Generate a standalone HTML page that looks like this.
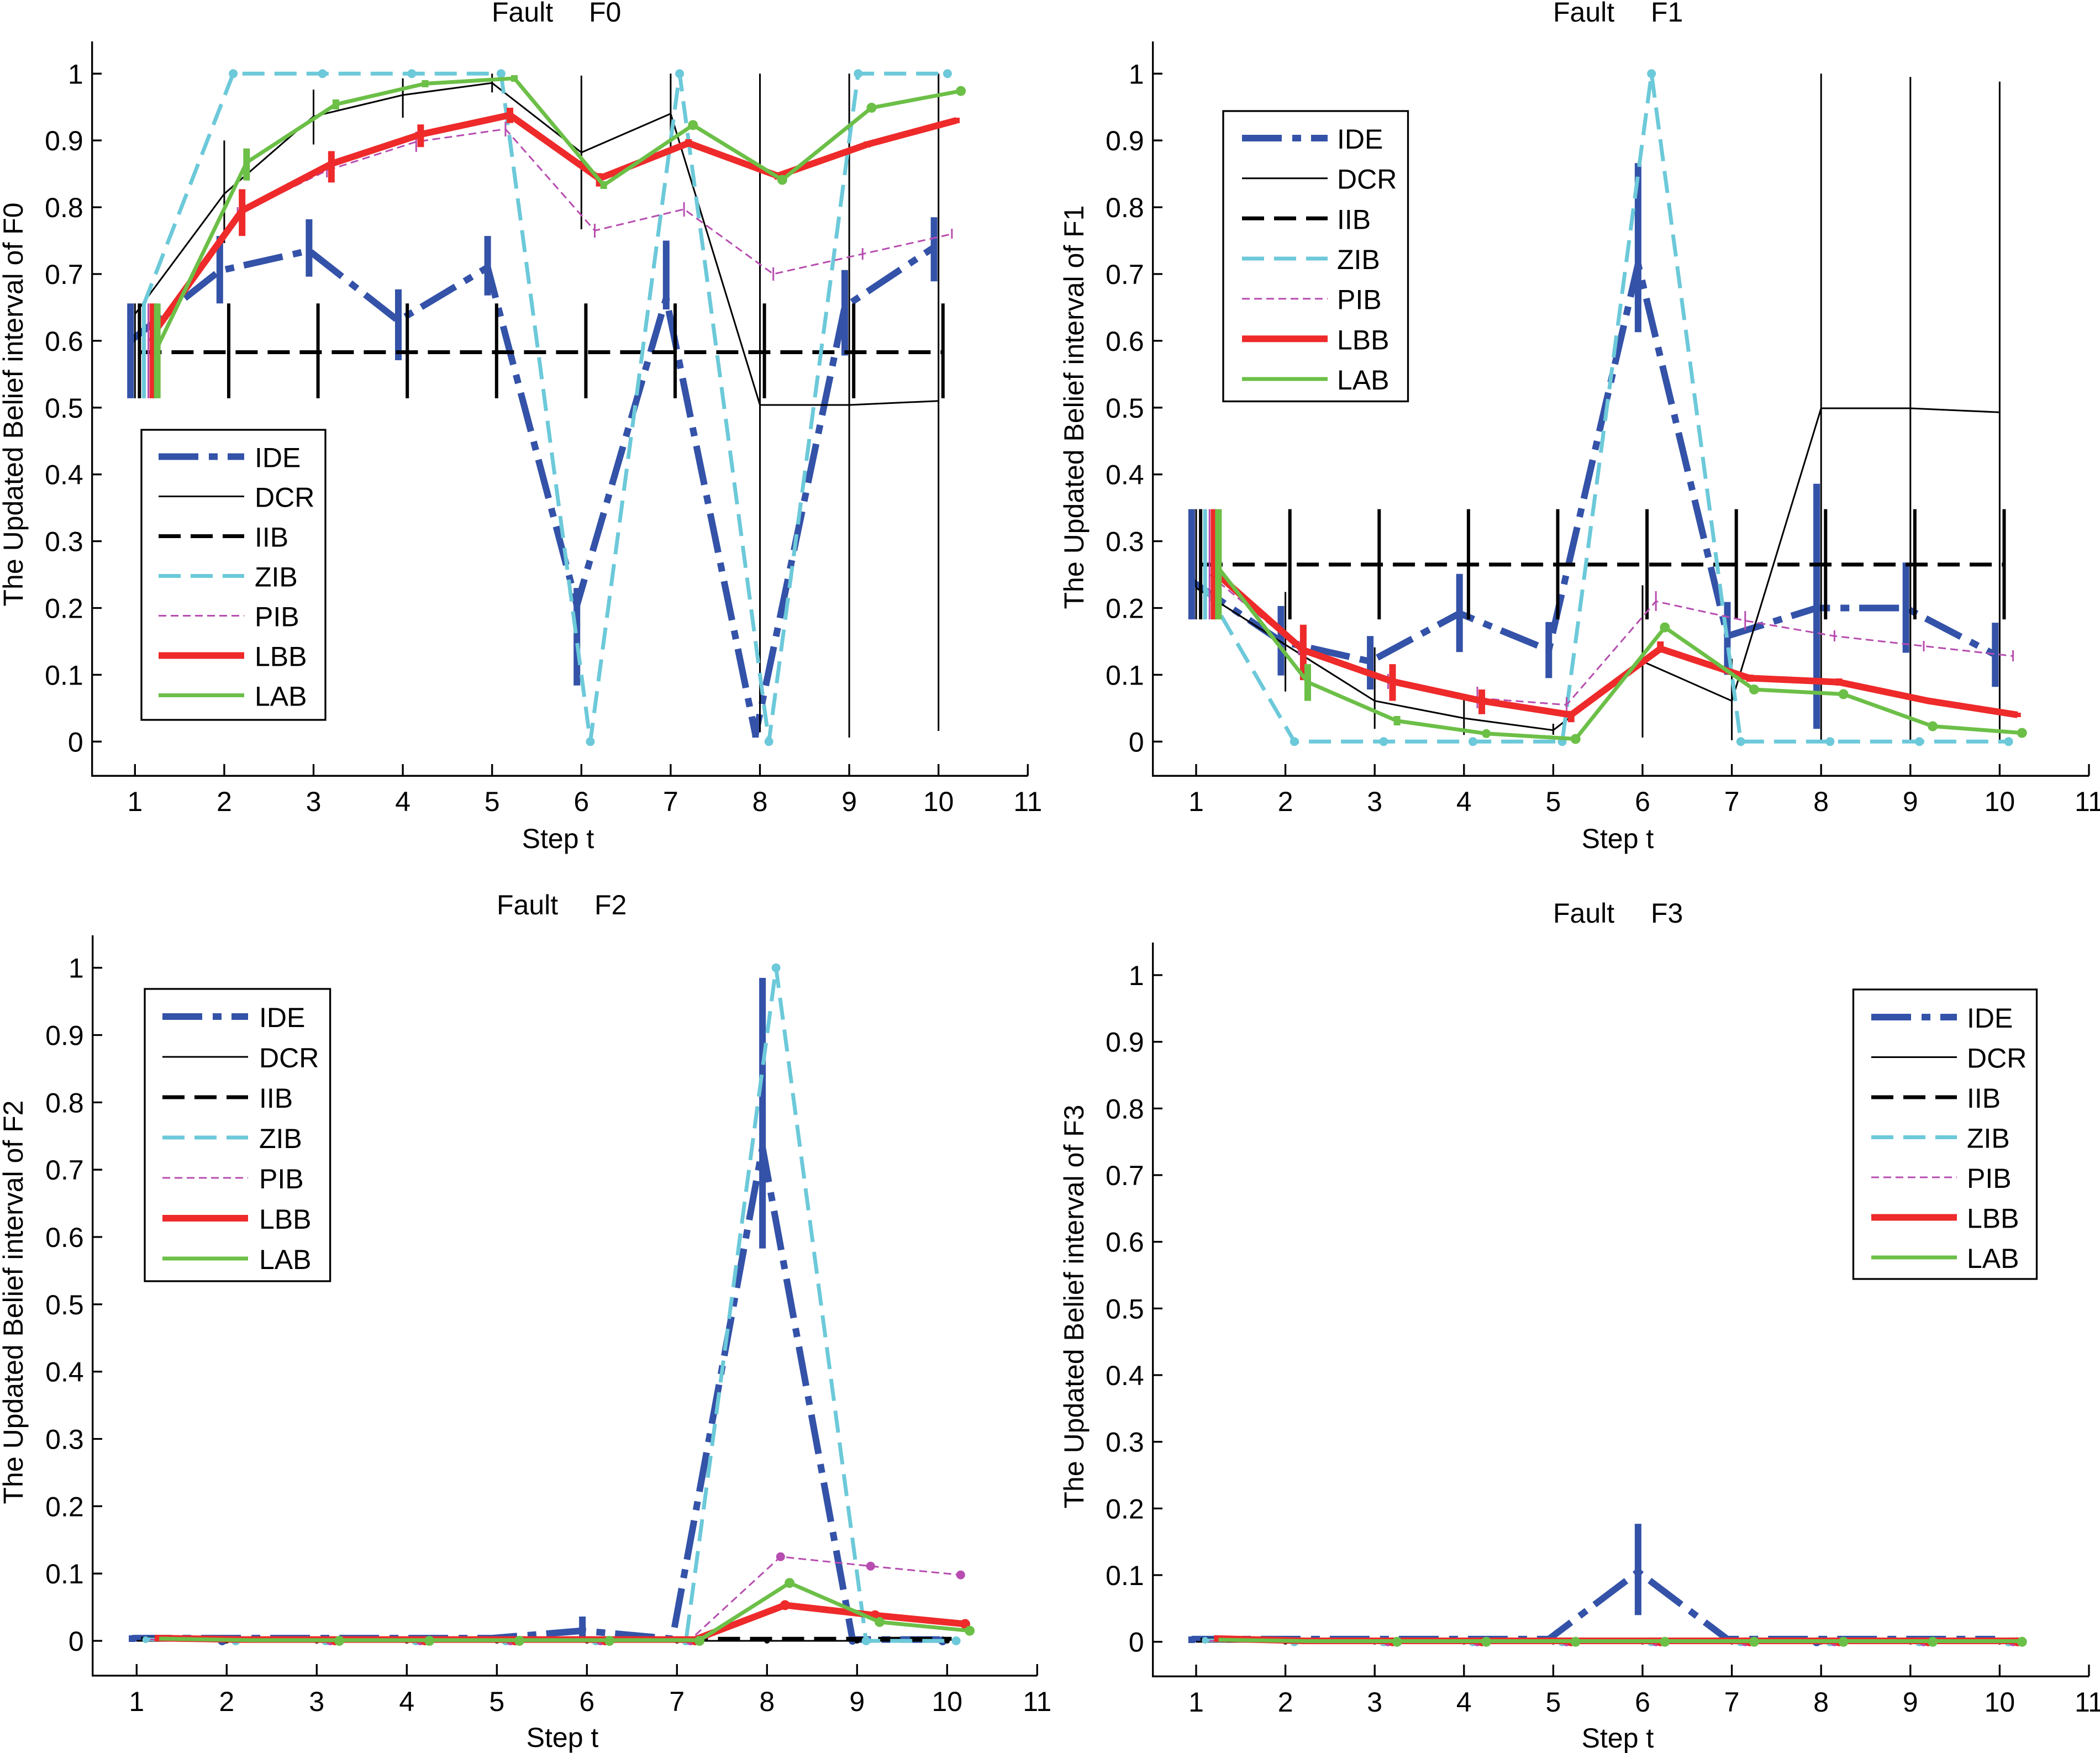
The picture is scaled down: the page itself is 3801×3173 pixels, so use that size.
<!DOCTYPE html>
<html>
<head>
<meta charset="utf-8">
<style>
html,body{margin:0;padding:0;background:#fff;}
svg{display:block;}
text{font-family:"Liberation Sans",Arial,sans-serif;font-size:50px;fill:#000;}
.ax{stroke:#000;stroke-width:3.3;fill:none;}
.ide{stroke:#3352A8;stroke-width:12;fill:none;stroke-dasharray:72 19 16 18;}
.ideb{stroke:#3352A8;stroke-width:12;fill:none;}
.dcr{stroke:#000;stroke-width:3;fill:none;}
.iib{stroke:#000;stroke-width:7;fill:none;stroke-dasharray:40 18;}
.iibb{stroke:#000;stroke-width:6;fill:none;}
.zib{stroke:#6CC9D9;stroke-width:7;fill:none;stroke-dasharray:40 18;}
.zibb{stroke:#6CC9D9;stroke-width:7;fill:none;}
.pib{stroke:#B74DB0;stroke-width:3;fill:none;stroke-dasharray:14 8;}
.pibb{stroke:#B74DB0;stroke-width:3;fill:none;}
.lbb{stroke:#EE2A2A;stroke-width:12;fill:none;}
.lab{stroke:#6CBF47;stroke-width:7;fill:none;}
.labb{stroke:#6CBF47;stroke-width:12;fill:none;}
.cz{fill:#6CC9D9;} .cg{fill:#6CBF47;} .cr{fill:#EE2A2A;} .cm{fill:#B74DB0;} .cb{fill:#3352A8;} .ck{fill:#000;}
.leg{fill:#fff;stroke:#000;stroke-width:3.3;}
</style>
</head>
<body>
<svg width="3801" height="3173" viewBox="0 0 3801 3173" xmlns="http://www.w3.org/2000/svg">
<rect x="0" y="0" width="3801" height="3173" fill="#fff"/>

<!-- ===================== PANEL 1 (F0) ===================== -->
<g>
<path class="ax" d="M166.7,75V1404.3H1860.3"/>
<path class="ax" d="M244.3,1404.3V1383 M405.9,1404.3V1383 M567.5,1404.3V1383 M729.1,1404.3V1383 M890.7,1404.3V1383 M1052.3,1404.3V1383 M1213.9,1404.3V1383 M1375.5,1404.3V1383 M1537.1,1404.3V1383 M1698.7,1404.3V1383 M1860.3,1404.3V1383"/>
<path class="ax" d="M166.7,1342.3H184 M166.7,1221.4H184 M166.7,1100.5H184 M166.7,979.6H184 M166.7,858.7H184 M166.7,737.8H184 M166.7,616.9H184 M166.7,496H184 M166.7,375.1H184 M166.7,254.2H184 M166.7,133.3H184"/>
<g text-anchor="end">
<text x="150.7" y="1360.3">0</text><text x="150.7" y="1239.4">0.1</text><text x="150.7" y="1118.5">0.2</text><text x="150.7" y="997.6">0.3</text><text x="150.7" y="876.7">0.4</text><text x="150.7" y="755.8">0.5</text><text x="150.7" y="634.9">0.6</text><text x="150.7" y="514">0.7</text><text x="150.7" y="393.1">0.8</text><text x="150.7" y="272.2">0.9</text><text x="150.7" y="151.3">1</text>
</g>
<g text-anchor="middle">
<text x="244.3" y="1468">1</text><text x="405.9" y="1468">2</text><text x="567.5" y="1468">3</text><text x="729.1" y="1468">4</text><text x="890.7" y="1468">5</text><text x="1052.3" y="1468">6</text><text x="1213.9" y="1468">7</text><text x="1375.5" y="1468">8</text><text x="1537.1" y="1468">9</text><text x="1698.7" y="1468">10</text><text x="1860.3" y="1468">11</text>
<text x="1010" y="1535">Step t</text>
<text transform="translate(41,732) rotate(-90)">The Updated Belief interval of F0</text>
</g>
<text x="890" y="39">Fault</text><text x="1066" y="39">F0</text>

<!-- IDE -->
<path class="ide" d="M236.2,616.9 L397.8,490 L559.4,453.7 L721,580.6 L882.6,483.9 L1044.2,1095.7 L1205.8,539.5 L1367.4,1330.2 L1529,555.2 L1690.6,447.6"/>
<path class="ideb" d="M236.2,549.2V720.9 M397.8,427.1V549.2 M559.4,396.9V500.8 M721,523.8V652 M882.6,427.1V534.7 M1044.2,1064.2V1240.7 M1205.8,435.5V560.1 M1367.4,1306V1335.1 M1529,488.7V643.5 M1690.6,393.2V509.3"/>
<!-- DCR -->
<path class="dcr" d="M244.3,568.5 L405.9,350.9 L567.5,210.7 L729.1,172 L890.7,150.2 L1052.3,276 L1213.9,205.8 L1375.5,733 L1537.1,733 L1698.7,725.7"/>
<path class="dcr" d="M244.3,549.2V720.9 M405.9,254.2V440 M567.5,162.3V261.5 M729.1,141.8V213.1 M890.7,133.3V167.2 M1052.3,136.9V415 M1213.9,133.3V276 M1375.5,133.3V1325.4 M1537.1,133.3V1335 M1698.7,133.3V1323"/>
<!-- IIB -->
<path class="iib" d="M252.4,637.5H1706.8"/>
<path class="iibb" d="M252.4,549.2V720.9 M414,549.2V720.9 M575.6,549.2V720.9 M737.2,549.2V720.9 M898.8,549.2V720.9 M1060.4,549.2V720.9 M1222,549.2V720.9 M1383.6,549.2V720.9 M1545.2,549.2V720.9 M1706.8,549.2V720.9"/>
<!-- ZIB -->
<path class="zib" d="M260.5,550.4 L422.1,133.3 L583.7,133.3 L745.3,133.3 L906.9,133.3 L1068.5,1342.3 L1230.1,133.3 L1391.7,1342.3 L1553.3,133.3 L1714.9,133.3"/>
<path class="zibb" d="M260.5,549.2V720.9"/>
<g class="cz"><circle cx="422.1" cy="133.3" r="8"/><circle cx="583.7" cy="133.3" r="8"/><circle cx="745.3" cy="133.3" r="8"/><circle cx="906.9" cy="133.3" r="8"/><circle cx="1068.5" cy="1342.3" r="8"/><circle cx="1230.1" cy="133.3" r="8"/><circle cx="1391.7" cy="1342.3" r="8"/><circle cx="1553.3" cy="133.3" r="8"/><circle cx="1714.9" cy="133.3" r="8"/></g>
<!-- PIB -->
<path class="pib" d="M268.5,616.9 L430.1,387.2 L591.7,308.6 L753.3,256.6 L914.9,233.6 L1076.5,417.4 L1238.1,378.7 L1399.7,496 L1561.3,459.7 L1722.9,423.5"/>
<path class="pibb" d="M268.5,549.2V720.9 M430.1,375V400 M591.7,296V321 M753.3,238V275 M914.9,220V247 M1076.5,405V430 M1238.1,366V392 M1399.7,484V508 M1561.3,449V470 M1722.9,414V432"/>
<!-- LBB -->
<path class="lbb" d="M276.6,604.8 L438.2,381.1 L599.8,296.5 L761.4,243.3 L923,208.3 L1084.6,323.1 L1246.2,259 L1407.8,318.3 L1569.4,261.5 L1731,217.9"/>
<path class="lbb" d="M276.6,549.2V720.9 M438.2,342.5V427.1 M599.8,273.5V330.4 M761.4,225.2V266.3 M923,195V222.8 M1084.6,313.4V337.6 M1246.2,252V266 M1407.8,312V325 M1569.4,256V267 M1731,213V223"/>
<!-- LAB -->
<path class="lab" d="M284.7,629 L446.3,294.1 L607.9,188.9 L769.5,151.4 L931.1,141.8 L1092.7,335.2 L1254.3,226.4 L1415.9,325.5 L1577.5,195 L1739.1,164.7"/>
<path class="labb" d="M284.7,549.2V720.9 M446.3,268.7V326.7 M607.9,180V198 M769.5,145V158 M931.1,136V148 M1092.7,328V342 M1254.3,219V233"/>
<g class="cg"><circle cx="1254.3" cy="226.4" r="9"/><circle cx="1415.9" cy="325.5" r="9"/><circle cx="1577.5" cy="195" r="9"/><circle cx="1739.1" cy="164.7" r="9"/></g>

<!-- Legend -->
<rect class="leg" x="256" y="778" width="333" height="525"/>
<path class="ide" d="M287,826.5H442"/>
<path class="dcr" d="M287,898.5H442"/>
<path class="iib" d="M287,970.5H442"/>
<path class="zib" d="M287,1042.5H442"/>
<path class="pib" d="M287,1114.5H442"/>
<path class="lbb" d="M287,1186.5H442"/>
<path class="lab" d="M287,1258.5H442"/>
<text x="461" y="845.5">IDE</text><text x="461" y="917.5">DCR</text><text x="461" y="989.5">IIB</text><text x="461" y="1061.5">ZIB</text><text x="461" y="1133.5">PIB</text><text x="461" y="1205.5">LBB</text><text x="461" y="1277.5">LAB</text>
</g>

<!-- ===================== PANEL 2 (F1) ===================== -->
<g>
<path class="ax" d="M2086.7,75V1404.3H3781"/>
<path class="ax" d="M2165,1404.3V1383 M2326.6,1404.3V1383 M2488.2,1404.3V1383 M2649.8,1404.3V1383 M2811.4,1404.3V1383 M2973,1404.3V1383 M3134.6,1404.3V1383 M3296.2,1404.3V1383 M3457.8,1404.3V1383 M3619.4,1404.3V1383 M3781,1404.3V1383"/>
<path class="ax" d="M2086.7,1342.3H2104 M2086.7,1221.4H2104 M2086.7,1100.5H2104 M2086.7,979.6H2104 M2086.7,858.7H2104 M2086.7,737.8H2104 M2086.7,616.9H2104 M2086.7,496H2104 M2086.7,375.1H2104 M2086.7,254.2H2104 M2086.7,133.3H2104"/>
<g text-anchor="end">
<text x="2070.7" y="1360.3">0</text><text x="2070.7" y="1239.4">0.1</text><text x="2070.7" y="1118.5">0.2</text><text x="2070.7" y="997.6">0.3</text><text x="2070.7" y="876.7">0.4</text><text x="2070.7" y="755.8">0.5</text><text x="2070.7" y="634.9">0.6</text><text x="2070.7" y="514">0.7</text><text x="2070.7" y="393.1">0.8</text><text x="2070.7" y="272.2">0.9</text><text x="2070.7" y="151.3">1</text>
</g>
<g text-anchor="middle">
<text x="2165" y="1468">1</text><text x="2326.6" y="1468">2</text><text x="2488.2" y="1468">3</text><text x="2649.8" y="1468">4</text><text x="2811.4" y="1468">5</text><text x="2973" y="1468">6</text><text x="3134.6" y="1468">7</text><text x="3296.2" y="1468">8</text><text x="3457.8" y="1468">9</text><text x="3619.4" y="1468">10</text><text x="3781" y="1468">11</text>
<text x="2928" y="1535">Step t</text>
<text transform="translate(1961,737) rotate(-90)">The Updated Belief interval of F1</text>
</g>
<text x="2811" y="39">Fault</text><text x="2988" y="39">F1</text>

<!-- IDE -->
<path class="ide" d="M2156.9,1052.1 L2318.5,1160.9 L2480.1,1197.2 L2641.7,1110.2 L2803.3,1176.7 L2964.9,477.9 L3126.5,1151.3 L3288.1,1100.5 L3449.7,1100.5 L3611.3,1185.1"/>
<path class="ideb" d="M2156.9,921.6V1121.1 M2318.5,1096.9V1222.6 M2480.1,1151.3V1248 M2641.7,1038.8V1180.3 M2803.3,1125.9V1227.4 M2964.9,295.3V601.2 M3126.5,1089.6V1221.4 M3288.1,875.6V1319.3 M3449.7,1018.3V1181.5 M3611.3,1127.1V1243.2"/>
<!-- DCR -->
<path class="dcr" d="M2165,1064.2 L2326.6,1167 L2488.2,1268.6 L2649.8,1300 L2811.4,1321.7 L2973,1197.2 L3134.6,1268.6 L3296.2,739 L3457.8,739 L3619.4,746.3"/>
<path class="dcr" d="M2165,921.6V1121.1 M2326.6,1071.5V1251.6 M2488.2,1171.8V1319.3 M2649.8,1258.9V1330.2 M2811.4,1310V1330 M2973,1059.4V1335 M3134.6,1192.4V1339.9 M3296.2,133.3V1342.3 M3457.8,139.3V1342.3 M3619.4,147.8V1342.3"/>
<!-- IIB -->
<path class="iib" d="M2173.1,1021.9H3627.5"/>
<path class="iibb" d="M2173.1,921.6V1121.1 M2334.7,921.6V1121.1 M2496.3,921.6V1121.1 M2657.9,921.6V1121.1 M2819.5,921.6V1121.1 M2981.1,921.6V1121.1 M3142.7,921.6V1121.1 M3304.3,921.6V1121.1 M3465.9,921.6V1121.1 M3627.5,921.6V1121.1"/>
<!-- ZIB -->
<path class="zib" d="M2181.2,1064.2 L2342.8,1342.3 L2504.4,1342.3 L2666,1342.3 L2827.6,1342.3 L2989.2,133.3 L3150.8,1342.3 L3312.4,1342.3 L3474,1342.3 L3635.6,1342.3"/>
<path class="zibb" d="M2181.2,921.6V1121.1"/>
<g class="cz"><circle cx="2342.8" cy="1342.3" r="8"/><circle cx="2504.4" cy="1342.3" r="8"/><circle cx="2666" cy="1342.3" r="8"/><circle cx="2827.6" cy="1342.3" r="8"/><circle cx="2989.2" cy="133.3" r="8"/><circle cx="3150.8" cy="1342.3" r="8"/><circle cx="3312.4" cy="1342.3" r="8"/><circle cx="3474" cy="1342.3" r="8"/><circle cx="3635.6" cy="1342.3" r="8"/></g>
<!-- PIB -->
<path class="pib" d="M2189.2,1040 L2350.8,1173 L2512.4,1233.5 L2674,1263.7 L2835.6,1275.8 L2997.2,1088.4 L3158.8,1123.5 L3320.4,1151.3 L3482,1169.4 L3643.6,1187.5"/>
<path class="pibb" d="M2189.2,921.6V1121.1 M2350.8,1160V1186 M2512.4,1220V1247 M2674,1243V1282 M2835.6,1262V1290 M2997.2,1070V1106 M3158.8,1106V1140 M3320.4,1141V1161 M3482,1160V1179 M3643.6,1177V1197"/>
<!-- LBB -->
<path class="lbb" d="M2197.3,1034 L2358.9,1176.7 L2520.5,1233.5 L2682.1,1268.6 L2843.7,1293.9 L3005.3,1174.2 L3166.9,1227.4 L3328.5,1234.7 L3490.1,1268.6 L3651.7,1293.9"/>
<path class="lbb" d="M2197.3,921.6V1121.1 M2358.9,1130.7V1231.1 M2520.5,1202.1V1268.6 M2682.1,1248V1292.7 M2843.7,1286.7V1307.2 M3005.3,1161V1181.5 M3166.9,1221V1234 M3328.5,1228V1241 M3490.1,1264V1273 M3651.7,1290V1298"/>
<!-- LAB -->
<path class="lab" d="M2205.4,1028 L2367,1234.7 L2528.6,1304.8 L2690.2,1327.8 L2851.8,1337.5 L3013.4,1135.6 L3175,1248 L3336.6,1256.5 L3498.2,1314.5 L3659.8,1326.6"/>
<path class="labb" d="M2205.4,921.6V1121.1 M2367,1202.1V1268.6 M2528.6,1296V1313"/>
<g class="cg"><circle cx="2690.2" cy="1327.8" r="8"/><circle cx="2851.8" cy="1337.5" r="9"/><circle cx="3013.4" cy="1135.6" r="9"/><circle cx="3175" cy="1248" r="9"/><circle cx="3336.6" cy="1256.5" r="9"/><circle cx="3498.2" cy="1314.5" r="9"/><circle cx="3659.8" cy="1326.6" r="9"/></g>

<!-- Legend -->
<rect class="leg" x="2214" y="201" width="334.5" height="525.5"/>
<path class="ide" d="M2248,250H2403"/>
<path class="dcr" d="M2248,322.7H2403"/>
<path class="iib" d="M2248,395.3H2403"/>
<path class="zib" d="M2248,468H2403"/>
<path class="pib" d="M2248,540.7H2403"/>
<path class="lbb" d="M2248,613.3H2403"/>
<path class="lab" d="M2248,686H2403"/>
<text x="2420" y="269">IDE</text><text x="2420" y="341.7">DCR</text><text x="2420" y="414.3">IIB</text><text x="2420" y="487">ZIB</text><text x="2420" y="559.7">PIB</text><text x="2420" y="632.3">LBB</text><text x="2420" y="705">LAB</text>
</g>

<!-- ===================== PANEL 3 (F2) ===================== -->
<g>
<path class="ax" d="M167.7,1693V3033H1877.3"/>
<path class="ax" d="M247.3,3033V3012 M410.3,3033V3012 M573.3,3033V3012 M736.3,3033V3012 M899.3,3033V3012 M1062.3,3033V3012 M1225.3,3033V3012 M1388.3,3033V3012 M1551.3,3033V3012 M1714.3,3033V3012 M1877.3,3033V3012"/>
<path class="ax" d="M167.7,2970H185 M167.7,2848.2H185 M167.7,2726.3H185 M167.7,2604.5H185 M167.7,2482.7H185 M167.7,2360.9H185 M167.7,2239H185 M167.7,2117.2H185 M167.7,1995.4H185 M167.7,1873.5H185 M167.7,1751.7H185"/>
<g text-anchor="end">
<text x="151.7" y="2988">0</text><text x="151.7" y="2866.2">0.1</text><text x="151.7" y="2744.3">0.2</text><text x="151.7" y="2622.5">0.3</text><text x="151.7" y="2500.7">0.4</text><text x="151.7" y="2378.9">0.5</text><text x="151.7" y="2257">0.6</text><text x="151.7" y="2135.2">0.7</text><text x="151.7" y="2013.4">0.8</text><text x="151.7" y="1891.5">0.9</text><text x="151.7" y="1769.7">1</text>
</g>
<g text-anchor="middle">
<text x="247.3" y="3097">1</text><text x="410.3" y="3097">2</text><text x="573.3" y="3097">3</text><text x="736.3" y="3097">4</text><text x="899.3" y="3097">5</text><text x="1062.3" y="3097">6</text><text x="1225.3" y="3097">7</text><text x="1388.3" y="3097">8</text><text x="1551.3" y="3097">9</text><text x="1714.3" y="3097">10</text><text x="1877.3" y="3097">11</text>
<text x="1018" y="3162">Step t</text>
<text transform="translate(41,2357) rotate(-90)">The Updated Belief interval of F2</text>
</g>
<text x="899" y="1655">Fault</text><text x="1076" y="1655">F2</text>

<!-- IDE -->
<path class="ide" d="M239.1,2965.1 L402.1,2965.1 L565.1,2965.1 L728.1,2965.1 L891.1,2965.1 L1054.1,2951.7 L1217.1,2966.3 L1380.1,2077 L1543.1,2967.6 L1706.1,2967.6"/>
<path class="ideb" d="M239.1,2960V2972 M1054.1,2926V2970 M1380.1,1770V2259.7"/>
<g class="cb"><circle cx="402.1" cy="2970" r="8"/><circle cx="1543.1" cy="2970" r="7"/><circle cx="1706.1" cy="2970" r="8"/></g>
<!-- DCR -->
<path class="dcr" d="M247.3,2970H1714.3"/>
<g class="ck"><circle cx="410.3" cy="2970" r="5"/><circle cx="573.3" cy="2970" r="5"/><circle cx="736.3" cy="2970" r="5"/><circle cx="899.3" cy="2970" r="5"/><circle cx="1062.3" cy="2970" r="5"/><circle cx="1225.3" cy="2970" r="5"/><circle cx="1388.3" cy="2970" r="5"/><circle cx="1551.3" cy="2970" r="5"/><circle cx="1714.3" cy="2970" r="5"/></g>
<!-- IIB -->
<path class="iib" d="M255.5,2966.3H1722.5"/>
<!-- ZIB -->
<path class="zib" d="M263.6,2967 L426.6,2970 L589.6,2970 L752.6,2970 L915.6,2970 L1078.6,2970 L1241.6,2970 L1404.6,1751.7 L1567.6,2970 L1730.6,2970"/>
<g class="cz"><circle cx="263.6" cy="2968" r="6"/><circle cx="426.6" cy="2970" r="8"/><circle cx="589.6" cy="2970" r="8"/><circle cx="752.6" cy="2970" r="8"/><circle cx="915.6" cy="2970" r="8"/><circle cx="1078.6" cy="2970" r="8"/><circle cx="1241.6" cy="2970" r="8"/><circle cx="1404.6" cy="1751.7" r="8"/><circle cx="1567.6" cy="2970" r="8"/><circle cx="1730.6" cy="2970" r="8"/></g>
<!-- PIB -->
<path class="pib" d="M271.8,2967.6 L1249.8,2967.6 L1412.8,2817.7 L1575.8,2834.8 L1738.8,2850.6"/>
<g class="cm"><circle cx="597.8" cy="2970" r="8"/><circle cx="760.8" cy="2970" r="8"/><circle cx="923.8" cy="2970" r="8"/><circle cx="1086.8" cy="2970" r="8"/><circle cx="1249.8" cy="2970" r="8"/><circle cx="1412.8" cy="2817.7" r="8"/><circle cx="1575.8" cy="2834.8" r="8"/><circle cx="1738.8" cy="2850.6" r="8"/></g>
<!-- LBB -->
<path class="lbb" d="M279.9,2965 L442.9,2967.6 L1257.9,2967.6 L1420.9,2905.4 L1583.9,2923.7 L1746.9,2939.5"/>
<g class="cr"><circle cx="605.9" cy="2970" r="8"/><circle cx="768.9" cy="2970" r="8"/><circle cx="931.9" cy="2970" r="8"/><circle cx="1094.9" cy="2970" r="8"/><circle cx="1257.9" cy="2970" r="8"/><circle cx="1420.9" cy="2905.4" r="9"/><circle cx="1583.9" cy="2923.7" r="9"/><circle cx="1746.9" cy="2939.5" r="9"/></g>
<!-- LAB -->
<path class="lab" d="M288.1,2966 L451.1,2968.8 L1266.1,2968.8 L1429.1,2865.2 L1592.1,2935.9 L1755.1,2951.7"/>
<g class="cg"><circle cx="614.1" cy="2970" r="9"/><circle cx="777.1" cy="2970" r="9"/><circle cx="940.1" cy="2970" r="9"/><circle cx="1103.1" cy="2970" r="9"/><circle cx="1266.1" cy="2970" r="9"/><circle cx="1429.1" cy="2865.2" r="9"/><circle cx="1592.1" cy="2935.9" r="9"/><circle cx="1755.1" cy="2951.7" r="9"/></g>

<!-- Legend -->
<rect class="leg" x="262" y="1790" width="335.6" height="529"/>
<path class="ide" d="M294,1840H449"/>
<path class="dcr" d="M294,1913H449"/>
<path class="iib" d="M294,1986H449"/>
<path class="zib" d="M294,2059H449"/>
<path class="pib" d="M294,2132H449"/>
<path class="lbb" d="M294,2205H449"/>
<path class="lab" d="M294,2278H449"/>
<text x="469" y="1859">IDE</text><text x="469" y="1932">DCR</text><text x="469" y="2005">IIB</text><text x="469" y="2078">ZIB</text><text x="469" y="2151">PIB</text><text x="469" y="2224">LBB</text><text x="469" y="2297">LAB</text>
</g>

<!-- ===================== PANEL 4 (F3) ===================== -->
<g>
<path class="ax" d="M2086.7,1706V3034.3H3781"/>
<path class="ax" d="M2165,3034.3V3013 M2326.6,3034.3V3013 M2488.2,3034.3V3013 M2649.8,3034.3V3013 M2811.4,3034.3V3013 M2973,3034.3V3013 M3134.6,3034.3V3013 M3296.2,3034.3V3013 M3457.8,3034.3V3013 M3619.4,3034.3V3013 M3781,3034.3V3013"/>
<path class="ax" d="M2086.7,2971.7H2104 M2086.7,2851H2104 M2086.7,2730.4H2104 M2086.7,2609.7H2104 M2086.7,2489H2104 M2086.7,2368.4H2104 M2086.7,2247.7H2104 M2086.7,2127H2104 M2086.7,2006.4H2104 M2086.7,1885.7H2104 M2086.7,1765H2104"/>
<g text-anchor="end">
<text x="2070.7" y="2989.7">0</text><text x="2070.7" y="2869">0.1</text><text x="2070.7" y="2748.4">0.2</text><text x="2070.7" y="2627.7">0.3</text><text x="2070.7" y="2507">0.4</text><text x="2070.7" y="2386.4">0.5</text><text x="2070.7" y="2265.7">0.6</text><text x="2070.7" y="2145">0.7</text><text x="2070.7" y="2024.4">0.8</text><text x="2070.7" y="1903.7">0.9</text><text x="2070.7" y="1783">1</text>
</g>
<g text-anchor="middle">
<text x="2165" y="3098">1</text><text x="2326.6" y="3098">2</text><text x="2488.2" y="3098">3</text><text x="2649.8" y="3098">4</text><text x="2811.4" y="3098">5</text><text x="2973" y="3098">6</text><text x="3134.6" y="3098">7</text><text x="3296.2" y="3098">8</text><text x="3457.8" y="3098">9</text><text x="3619.4" y="3098">10</text><text x="3781" y="3098">11</text>
<text x="2928" y="3163">Step t</text>
<text transform="translate(1961,2365) rotate(-90)">The Updated Belief interval of F3</text>
</g>
<text x="2811" y="1670">Fault</text><text x="2988" y="1670">F3</text>

<!-- IDE -->
<path class="ide" d="M2156.9,2966.9 L2318.5,2966.9 L2480.1,2966.9 L2641.7,2966.9 L2803.3,2966.9 L2964.9,2845 L3126.5,2966.9 L3288.1,2966.9 L3449.7,2966.9 L3611.3,2966.9"/>
<path class="ideb" d="M2156.9,2962V2974 M2964.9,2758.1V2923.4"/>
<g class="cb"><circle cx="3288.1" cy="2971.7" r="8"/></g>
<!-- DCR -->
<path class="dcr" d="M2165,2971.7H3619.4"/>
<g class="ck"><circle cx="2326.6" cy="2971.7" r="5"/><circle cx="2488.2" cy="2971.7" r="5"/><circle cx="2649.8" cy="2971.7" r="5"/><circle cx="2811.4" cy="2971.7" r="5"/><circle cx="2973" cy="2971.7" r="5"/><circle cx="3134.6" cy="2971.7" r="5"/><circle cx="3296.2" cy="2971.7" r="5"/><circle cx="3457.8" cy="2971.7" r="5"/><circle cx="3619.4" cy="2971.7" r="5"/></g>
<!-- IIB -->
<path class="iib" d="M2173.1,2968H3627.5"/>
<!-- ZIB -->
<path class="zib" d="M2181.2,2969 L3635.6,2971.7"/>
<g class="cz"><circle cx="2181.2" cy="2969" r="6"/><circle cx="2342.8" cy="2971.7" r="8"/><circle cx="2504.4" cy="2971.7" r="8"/><circle cx="2666" cy="2971.7" r="8"/><circle cx="2827.6" cy="2971.7" r="8"/><circle cx="2989.2" cy="2971.7" r="8"/><circle cx="3150.8" cy="2971.7" r="8"/><circle cx="3312.4" cy="2971.7" r="8"/><circle cx="3474" cy="2971.7" r="8"/><circle cx="3635.6" cy="2971.7" r="8"/></g>
<!-- PIB -->
<path class="pib" d="M2189.2,2970H3643.6"/>
<g class="cm"><circle cx="2512.4" cy="2971.7" r="8"/><circle cx="2674" cy="2971.7" r="8"/><circle cx="2835.6" cy="2971.7" r="8"/><circle cx="2997.2" cy="2971.7" r="8"/><circle cx="3158.8" cy="2971.7" r="8"/><circle cx="3320.4" cy="2971.7" r="8"/><circle cx="3482" cy="2971.7" r="8"/><circle cx="3643.6" cy="2971.7" r="8"/></g>
<!-- LBB -->
<path class="lbb" d="M2197.3,2965.7 L2358.9,2970 L3651.7,2970"/>
<g class="cr"><circle cx="2520.5" cy="2971.7" r="8"/><circle cx="2682.1" cy="2971.7" r="8"/><circle cx="2843.7" cy="2971.7" r="8"/><circle cx="3005.3" cy="2971.7" r="8"/><circle cx="3166.9" cy="2971.7" r="8"/><circle cx="3328.5" cy="2971.7" r="8"/><circle cx="3490.1" cy="2971.7" r="8"/><circle cx="3651.7" cy="2971.7" r="8"/></g>
<!-- LAB -->
<path class="lab" d="M2205.4,2968 L2367,2970.5 L3659.8,2970.5"/>
<g class="cg"><circle cx="2528.6" cy="2971.7" r="9"/><circle cx="2690.2" cy="2971.7" r="9"/><circle cx="2851.8" cy="2971.7" r="9"/><circle cx="3013.4" cy="2971.7" r="9"/><circle cx="3175" cy="2971.7" r="9"/><circle cx="3336.6" cy="2971.7" r="9"/><circle cx="3498.2" cy="2971.7" r="9"/><circle cx="3659.8" cy="2971.7" r="9"/></g>

<!-- Legend -->
<rect class="leg" x="3354.5" y="1791" width="332" height="524"/>
<path class="ide" d="M3387,1841H3542"/>
<path class="dcr" d="M3387,1913.5H3542"/>
<path class="iib" d="M3387,1986H3542"/>
<path class="zib" d="M3387,2058.5H3542"/>
<path class="pib" d="M3387,2131H3542"/>
<path class="lbb" d="M3387,2203.5H3542"/>
<path class="lab" d="M3387,2276H3542"/>
<text x="3560" y="1860">IDE</text><text x="3560" y="1932.5">DCR</text><text x="3560" y="2005">IIB</text><text x="3560" y="2077.5">ZIB</text><text x="3560" y="2150">PIB</text><text x="3560" y="2222.5">LBB</text><text x="3560" y="2295">LAB</text>
</g>
</svg>
</body>
</html>
